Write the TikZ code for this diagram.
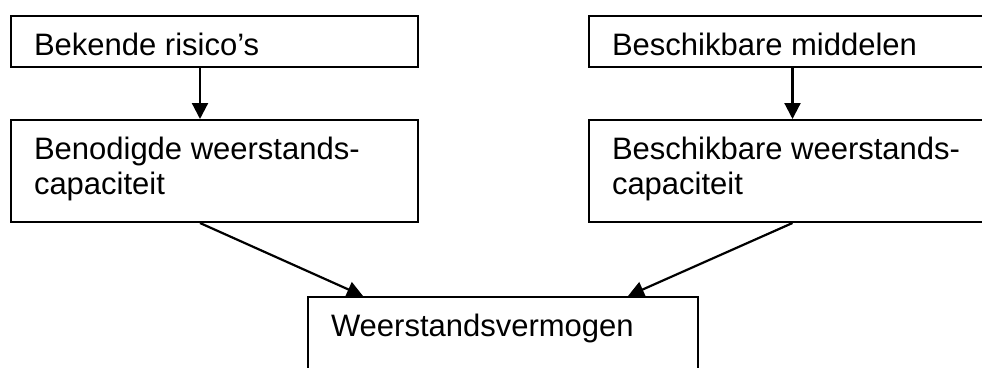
\documentclass[tikz,border=0pt]{standalone}
\usepackage{fontspec}
\setmainfont{Liberation Sans}
\usetikzlibrary{positioning}
\usetikzlibrary{arrows.meta}

% breedte, hoogte, tekst
\newcommand{\bloktekst}[3]{\parbox[t][#2][t]{#1}{\raggedright\rule{0pt}{39pt}#3}}

\begin{document}
\begin{tikzpicture}[x=1pt, y=1pt,
    blok/.style={draw, line width=2pt, inner xsep=23pt, inner ysep=0pt,
      anchor=north west, font=\fontsize{31}{35}\selectfont},
    pijl/.style={-{Triangle[width=16pt,length=16pt]}, line width=2.2pt},
    node distance=51pt]
  \clip (0,0) rectangle (982,-367);
  % links
  \node[blok] (risico) at (10,-15) {\bloktekst{361pt}{51pt}{Bekende risico’s}};
  \node[blok, below=of risico] (benodigd)
    {\bloktekst{361pt}{102pt}{Benodigde weerstands-\\capaciteit}};
  % rechts
  \node[blok] (middelen) at (588,-15) {\bloktekst{361pt}{51pt}{Beschikbare middelen}};
  \node[blok, below=of middelen] (beschikbaar)
    {\bloktekst{361pt}{102pt}{Beschikbare weerstands-\\capaciteit}};
  % onder
  \node[blok] (vermogen) at (307,-296) {\bloktekst{344pt}{110pt}{Weerstandsvermogen}};

  \draw[pijl] ([xshift=-14.5pt]risico.south) -- ([xshift=-14.5pt]benodigd.north);
  \draw[pijl] (middelen.south) -- (beschikbaar.north);
  \draw[pijl] ([xshift=-14.5pt]benodigd.south) -- ([xshift=-140pt]vermogen.north);
  \draw[pijl] (beschikbaar.south) -- ([xshift=125pt]vermogen.north);
\end{tikzpicture}
\end{document}
